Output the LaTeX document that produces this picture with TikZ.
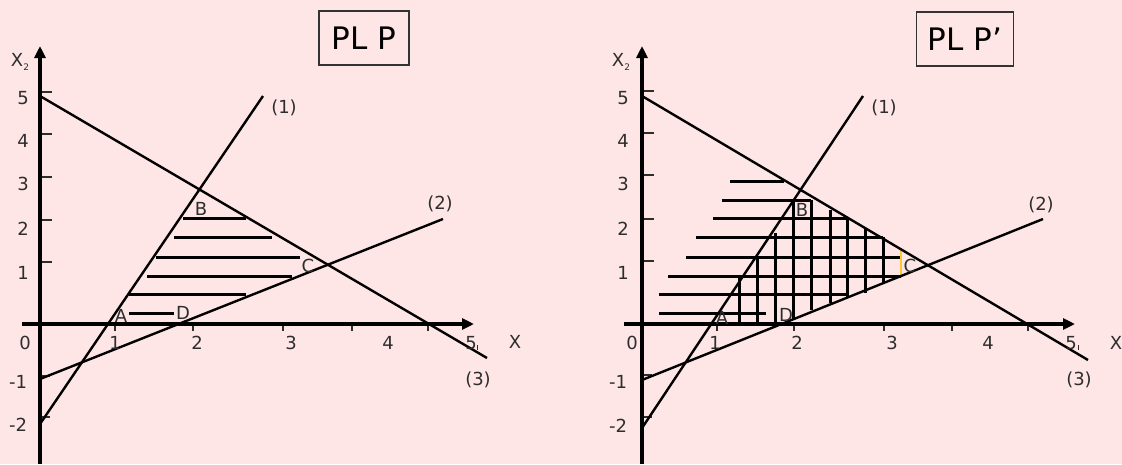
\documentclass[tikz,border=0pt]{standalone}
\usepackage{fontspec}
\setmainfont{DejaVu Sans}
\usetikzlibrary{arrows.meta}
\definecolor{bgpink}{RGB}{255,230,230}
\definecolor{hlyellow}{RGB}{250,200,50}
\definecolor{lblgray}{RGB}{45,45,45}
\begin{document}
\begin{tikzpicture}[x=1pt,y=-1pt,
  axisline/.style={line width=3.6pt,-{Triangle[length=12pt,width=11pt]}},
  plotline/.style={line width=2.4pt},
  hatch/.style={line width=3pt},
  tickmark/.style={line width=1.4pt,lblgray},
  lbl/.style={font=\fontsize{18}{18}\selectfont,text=lblgray,inner sep=0pt},
  titlebox/.style={draw=black!80,line width=1.1pt,font=\fontsize{31}{31}\selectfont,minimum width=90pt,minimum height=54pt,inner sep=0pt}]
\useasboundingbox (0,0) rectangle (1122,464);
\fill[bgpink] (0,0) rectangle (1122,464);

%%%%%%%%%%%%%%%% LEFT PANEL %%%%%%%%%%%%%%%%
\node[titlebox] (tL) at (364,38) {PL P};
% hatching
\foreach \y/\a/\b in {218/183/246, 237/174/272, 257/156/300, 276/147/292, 294/129/246, 313/129/174}
  \draw[hatch] (\a,\y) -- (\b,\y);
% ticks
\foreach \y in {92,134,177,220,262} \draw[tickmark] (40,\y) -- (52,\y);
\foreach \y in {376,417} \draw[tickmark] (40,\y) -- (50,\y);
\foreach \x in {115,193,283,352,428} \draw[tickmark] (\x,324) -- (\x,331);
\draw[line width=0.9pt,lblgray] (477,345) -- (477,350);
% constraint lines
\coordinate (L3a) at (40,96);  \coordinate (L3b) at (487,358);
\coordinate (L1a) at (40,424); \coordinate (L1b) at (263,96);
\coordinate (L2a) at (40,379); \coordinate (L2b) at (443,219);
\draw[plotline] (L3a) -- (L3b);
\draw[plotline] (L1a) -- (L1b);
\draw[plotline] (L2a) -- (L2b);
% axes
\coordinate (LyS) at (40,464); \coordinate (LyE) at (40,46);
\coordinate (LxS) at (22,324); \coordinate (LxE) at (474,324);
\draw[axisline] (LyS) -- (LyE);
\draw[axisline] (LxS) -- (LxE);
% labels
\node[lbl] (LX2) at (20,62) {X\raisebox{-4pt}{\fontsize{9}{9}\selectfont 2}};
\node[lbl] (Ly5) at (23,98) {5};
\node[lbl] (Ly4) at (23,141) {4};
\node[lbl] (Ly3) at (23,184) {3};
\node[lbl] (Ly2) at (23,229) {2};
\node[lbl] (Ly1) at (23,273) {1};
\node[lbl] (Ly0) at (25,343) {0};
\node[lbl] (Lym1) at (18,382) {-1};
\node[lbl] (Lym2) at (18,425) {-2};
\node[lbl] (Lx1) at (115,343) {1};
\node[lbl] (Lx2) at (197,343) {2};
\node[lbl] (Lx3) at (291,343) {3};
\node[lbl] (Lx4) at (388,343) {4};
\node[lbl] (Lx5) at (471,343) {5};
\node[lbl] (LX) at (515,342) {X};
\node[lbl] (Lc1) at (284,108) {(1)};
\node[lbl] (Lc2) at (440,204) {(2)};
\node[lbl] (Lc3) at (478,380) {(3)};
\node[lbl] (LA) at (121,316) {A};
\node[lbl] (LB) at (201,209) {B};
\node[lbl] (LC) at (308,266) {C};
\node[lbl] (LD) at (183,313) {D};

%%%%%%%%%%%%%%%% RIGHT PANEL %%%%%%%%%%%%%%%%
\node[titlebox,minimum width=97pt] (tR) at (965,39) {PL P’};
% horizontal hatching
\foreach \y/\a/\b in {181/730/784, 200/722/811, 218/713/847, 237/696/883, 257/686/902, 276/668/901, 294/659/848, 313/659/766}
  \draw[hatch] (\a,\y) -- (\b,\y);
% vertical hatching
\foreach \x/\a/\b in {739/277/323, 757/257/323, 775/233/323, 793/200/319, 811/200/310, 830/210/303, 847/217/297, 865/228/293, 883/237/283}
  \draw[hatch] (\x,\a) -- (\x,\b);
\draw[hlyellow,line width=1.6pt] (901,248) -- (901,277);
% ticks
\foreach \y in {91,133,175,219,261} \draw[tickmark] (642,\y) -- (654,\y);
\foreach \y in {375,417} \draw[tickmark] (642,\y) -- (652,\y);
\foreach \x in {717,794,884,952,1028} \draw[tickmark] (\x,324) -- (\x,331);
\draw[line width=0.9pt,lblgray] (1078,345) -- (1078,350);
% constraint lines
\coordinate (R3a) at (642,96);  \coordinate (R3b) at (1088,360);
\coordinate (R1a) at (642,428); \coordinate (R1b) at (863,96);
\coordinate (R2a) at (642,380); \coordinate (R2b) at (1043,219);
\draw[plotline] (R3a) -- (R3b);
\draw[plotline] (R1a) -- (R1b);
\draw[plotline] (R2a) -- (R2b);
% axes
\coordinate (RyS) at (642,464); \coordinate (RyE) at (642,46);
\coordinate (RxS) at (624,324); \coordinate (RxE) at (1075,324);
\draw[axisline] (RyS) -- (RyE);
\draw[axisline] (RxS) -- (RxE);
% labels
\node[lbl] (RX2) at (621,62) {X\raisebox{-4pt}{\fontsize{9}{9}\selectfont 2}};
\node[lbl] (Ry5) at (623,98) {5};
\node[lbl] (Ry4) at (623,141) {4};
\node[lbl] (Ry3) at (623,184) {3};
\node[lbl] (Ry2) at (623,229) {2};
\node[lbl] (Ry1) at (623,273) {1};
\node[lbl] (Ry0) at (632,343) {0};
\node[lbl] (Rym1) at (618,382) {-1};
\node[lbl] (Rym2) at (618,426) {-2};
\node[lbl] (Rx1) at (715,343) {1};
\node[lbl] (Rx2) at (797,343) {2};
\node[lbl] (Rx3) at (892,343) {3};
\node[lbl] (Rx4) at (988,343) {4};
\node[lbl] (Rx5) at (1071,343) {5};
\node[lbl] (RX) at (1116,343) {X};
\node[lbl] (Rc1) at (884,108) {(1)};
\node[lbl] (Rc2) at (1041,205) {(2)};
\node[lbl] (Rc3) at (1079,380) {(3)};
\node[lbl] (RA) at (722,318) {A};
\node[lbl] (RB) at (802,210) {B};
\node[lbl] (RC) at (910,266) {C};
\node[lbl] (RD) at (786,315) {D};
\end{tikzpicture}
\end{document}
